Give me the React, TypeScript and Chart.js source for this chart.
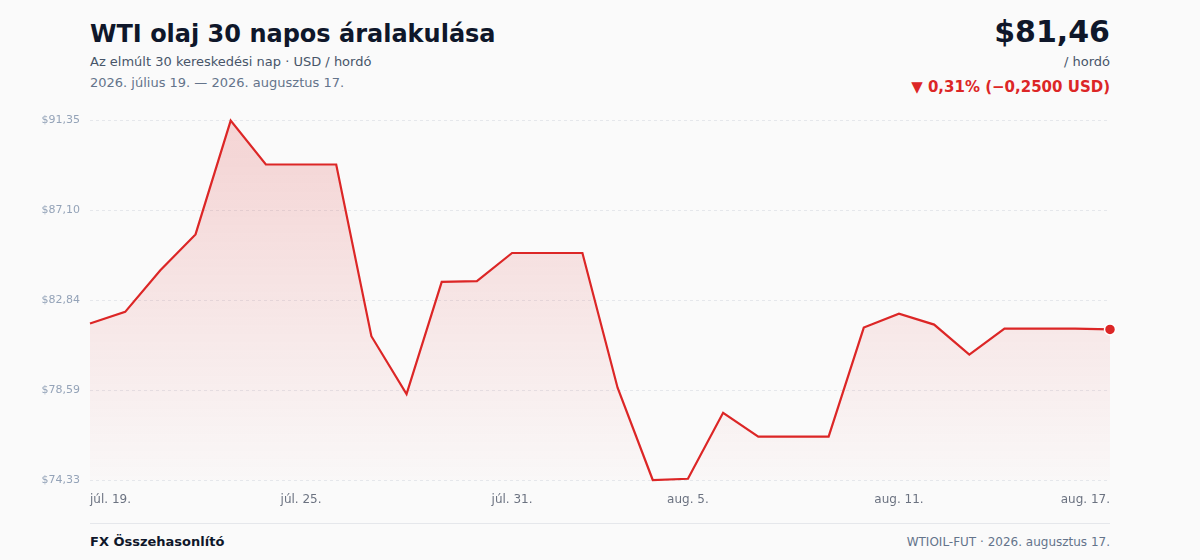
import React, { useEffect, useRef } from "react";
import { Chart, registerables } from "chart.js";

Chart.register(...registerables);

const dateLabels: string[] = [
  "júl. 19.", "júl. 20.", "júl. 21.", "júl. 22.", "júl. 23.", "júl. 24.", "júl. 25.",
  "júl. 26.", "júl. 27.", "júl. 28.", "júl. 29.", "júl. 30.", "júl. 31.",
  "aug. 1.", "aug. 2.", "aug. 3.", "aug. 4.", "aug. 5.", "aug. 6.", "aug. 7.",
  "aug. 8.", "aug. 9.", "aug. 10.", "aug. 11.", "aug. 12.", "aug. 13.", "aug. 14.",
  "aug. 15.", "aug. 16.", "aug. 17.",
];

const prices: number[] = [
  81.74, 82.29, 84.26, 85.96, 91.35, 89.27, 89.27, 89.27, 81.14, 78.40,
  83.71, 83.75, 85.08, 85.08, 85.08, 78.70, 74.33, 74.39, 77.51, 76.38,
  76.38, 76.38, 81.55, 82.21, 81.69, 80.27, 81.50, 81.50, 81.50, 81.46,
];

const shownTickIdx: number[] = [0, 6, 12, 17, 23, 29];

const yTickValues: number[] = [74.33, 78.59, 82.84, 87.1, 91.35];

const RED = "#dc2626";
const FONT = "'DejaVu Sans', sans-serif";

export default function App() {
  const canvasRef = useRef<HTMLCanvasElement | null>(null);

  useEffect(() => {
    if (!canvasRef.current) return;
    const lastIdx = prices.length - 1;
    const chart = new Chart(canvasRef.current, {
      type: "line",
      data: {
        labels: dateLabels,
        datasets: [
          {
            data: prices,
            borderColor: RED,
            borderWidth: 2.2,
            tension: 0,
            fill: "start",
            clip: false as any,
            backgroundColor: (ctx: any) => {
              const { chart } = ctx;
              const area = chart.chartArea;
              if (!area) return "rgba(220,38,38,0.1)";
              const g = chart.ctx.createLinearGradient(0, area.top, 0, area.bottom);
              g.addColorStop(0, "rgba(220,38,38,0.18)");
              g.addColorStop(1, "rgba(220,38,38,0.01)");
              return g;
            },
            pointRadius: prices.map((_, i) => (i === lastIdx ? 5.5 : 0)),
            pointHoverRadius: prices.map((_, i) => (i === lastIdx ? 5.5 : 0)),
            pointBackgroundColor: RED,
            pointBorderColor: "#ffffff",
            pointBorderWidth: 1.5,
          },
        ],
      },
      options: {
        animation: false,
        responsive: true,
        maintainAspectRatio: false,
        layout: { padding: { top: 4, right: 90, bottom: 0, left: 0 } },
        plugins: {
          legend: { display: false },
          tooltip: { enabled: false },
        },
        scales: {
          x: {
            type: "category",
            grid: { display: false, drawTicks: false },
            border: { display: false },
            afterFit: (scale: any) => {
              scale.height = 30;
            },
            ticks: {
              autoSkip: false,
              maxRotation: 0,
              minRotation: 0,
              align: "inner",
              padding: 13,
              color: "#6b7280",
              font: { family: FONT, size: 12 },
              callback: (_v: any, i: number) =>
                shownTickIdx.includes(i) ? dateLabels[i] : "",
            },
          },
          y: {
            min: yTickValues[0],
            max: yTickValues[yTickValues.length - 1],
            afterFit: (scale: any) => {
              scale.width = 90;
            },
            afterBuildTicks: (scale: any) => {
              scale.ticks = yTickValues.map((v) => ({ value: v }));
            },
            grid: {
              color: "#e5e7eb",
              lineWidth: 1,
              drawTicks: false,
            },
            border: { display: false, dash: [3, 3] },
            ticks: {
              padding: 10,
              color: "#94a3b8",
              font: { family: FONT, size: 11 },
              callback: (v: any) => "$" + Number(v).toFixed(2).replace(".", ","),
            },
          },
        },
      },
    });
    return () => chart.destroy();
  }, []);

  const abs = (s: React.CSSProperties): React.CSSProperties => ({
    position: "absolute",
    lineHeight: 1,
    whiteSpace: "nowrap",
    margin: 0,
    ...s,
  });

  return (
    <div
      style={{
        position: "fixed",
        left: 0,
        top: 0,
        width: 1200,
        height: 560,
        background: "#fafafa",
        fontFamily: FONT,
        overflow: "hidden",
      }}
    >
      <div style={abs({ left: 90, top: 22, fontSize: 24, fontWeight: 700, color: "#0f172a" })}>
        WTI olaj 30 napos áralakulása
      </div>
      <div style={abs({ left: 90, top: 55, fontSize: 13, color: "#475569" })}>
        Az elmúlt 30 kereskedési nap · USD / hordó
      </div>
      <div style={abs({ left: 90, top: 76, fontSize: 13, color: "#64748b" })}>
        2026. július 19. — 2026. augusztus 17.
      </div>
      <div style={abs({ right: 90, top: 17, fontSize: 30, fontWeight: 700, color: "#0f172a" })}>
        $81,46
      </div>
      <div style={abs({ right: 90, top: 55, fontSize: 13, color: "#475569" })}>/ hordó</div>
      <div style={abs({ right: 90, top: 80, fontSize: 15, fontWeight: 700, color: RED })}>
        ▼ 0,31% (−0,2500 USD)
      </div>

      <div style={{ position: "absolute", left: 0, top: 104, width: 1200, height: 406 }}>
        <canvas ref={canvasRef} />
      </div>

      <div
        style={{
          position: "absolute",
          left: 90,
          top: 523,
          width: 1020,
          height: 1,
          background: "#e5e7eb",
        }}
      />
      <div style={abs({ left: 90, top: 535, fontSize: 13, fontWeight: 700, color: "#0f172a" })}>
        FX Összehasonlító
      </div>
      <div style={abs({ right: 90, top: 536, fontSize: 12, color: "#64748b" })}>
        WTIOIL-FUT · 2026. augusztus 17.
      </div>
    </div>
  );
}
